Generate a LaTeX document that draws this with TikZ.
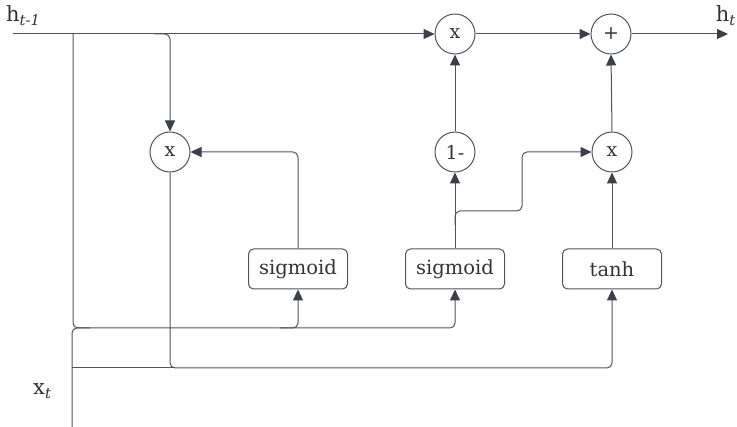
\documentclass[tikz,border=0pt]{standalone}
\usepackage{fontspec}
\setmainfont{DejaVu Serif}
\usetikzlibrary{arrows.meta}
\definecolor{linec}{HTML}{4F545C}
\definecolor{tipc}{HTML}{3A3F48}
\definecolor{txtc}{HTML}{333333}
\begin{document}
\begin{tikzpicture}[x=1pt,y=-1pt,
  wire/.style={draw=linec,line width=1pt,rounded corners=5pt},
  arr/.style={wire,-{Triangle[length=11pt,width=10pt,fill=tipc,color=tipc]}},
  op/.style={circle,draw=linec,line width=1pt,minimum size=40pt,inner sep=0pt,text=txtc,font=\fontsize{19}{22}\selectfont},
  fbox/.style={draw=linec,line width=1pt,rounded corners=5pt,minimum width=99pt,minimum height=40pt,inner sep=0pt,text=txtc,font=\fontsize{19.5}{22}\selectfont},
  lbl/.style={text=txtc,inner sep=0pt,font=\fontsize{21}{24}\selectfont}]
\useasboundingbox (0,0) rectangle (737,427);
% nodes
\node[op] (mulA) at (455,34) {x};
\node[op] (plus) at (611,34) {+};
\node[op] (mulL) at (170,152) {x};
\node[op] (onem) at (455,152) {1-};
\node[op] (mulR) at (612,152) {x};
\node[fbox] (sigA) at (298,269) {sigmoid};
\node[fbox] (sigB) at (455,269) {sigmoid};
\node[fbox] (tanhb) at (612,269) {tanh};
\node[lbl,anchor=base west] (hprev) at (6,22) {h\textsubscript{\textit{t-1}}};
\node[lbl,anchor=base east] (hnext) at (736,22) {h\textsubscript{\textit{t}}};
\node[lbl,anchor=base west] (xt) at (33,395) {x\textsubscript{\textit{t}}};
\coordinate (hin) at (13,34);
\coordinate (hout) at (728,34);
\coordinate (xin) at (72,427);
% connectors
\draw[arr] (hin) -- (mulA.west);
\draw[wire] (73,34) -- (73,328) -- (298,328);
\draw[arr] (280,328) -- (298,328) -- (sigA.south);
\draw[arr] (298,328) -- (455,328) -- (sigB.south);
\draw[wire] (xin) -- (72,328) -- (90,328);
\draw[wire] (72,368) -- (175,368);
\draw[arr] (mulL.south) -- (170,368) -- (612,368) -- (tanhb.south);
\draw[arr] (155,34) -- (170,34) -- (mulL.north);
\draw[arr] (sigA.north) -- (298,152) -- (mulL.east);
\draw[arr] (sigB.north) -- (onem.south);
\draw[arr] (455,225) -- (455,211) -- (522,211) -- (522,152) -- (mulR.west);
\draw[arr] (tanhb.north) -- (mulR.south);
\draw[arr] (mulR.north) -- (plus.south);
\draw[arr] (onem.north) -- (mulA.south);
\draw[arr] (mulA.east) -- (plus.west);
\draw[arr] (plus.east) -- (hout);
\end{tikzpicture}
\end{document}
